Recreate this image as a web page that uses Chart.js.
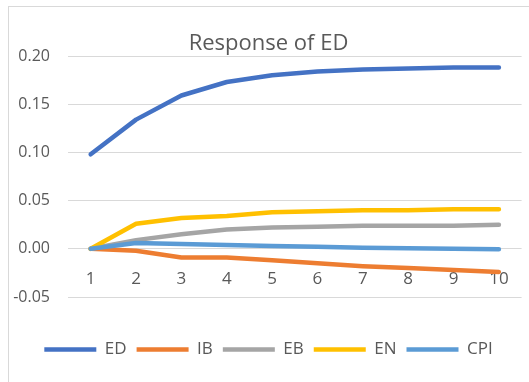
<!DOCTYPE html>
<html>
<head>
<meta charset="utf-8">
<script src="https://cdn.jsdelivr.net/npm/chart.js@4/dist/chart.umd.min.js"></script>
<style>
  html, body { margin: 0; padding: 0; background: #fff; overflow: hidden; }
  #wrap { position: relative; width: 529px; height: 382px; overflow: hidden; }
  #frame { position: absolute; left: 8px; top: 6px; width: 700px; height: 600px;
           border: 1px solid #d9d9d9; pointer-events: none; }
  canvas { position: absolute; left: 0; top: 0; }
</style>
</head>
<body>
<div id="wrap">
  <div id="frame"></div>
  <canvas id="c" width="529" height="382"></canvas>
</div>
<script>
const periods = ['1','2','3','4','5','6','7','8','9','10'];
const ED  = [0.098, 0.134, 0.159, 0.173, 0.180, 0.184, 0.186, 0.187, 0.188, 0.188];
const IB  = [0.000, -0.002, -0.009, -0.009, -0.012, -0.015, -0.018, -0.020, -0.022, -0.024];
const EB  = [0.000, 0.009, 0.015, 0.020, 0.022, 0.023, 0.024, 0.024, 0.024, 0.025];
const EN  = [0.000, 0.026, 0.032, 0.034, 0.038, 0.039, 0.040, 0.040, 0.041, 0.041];
const CPI = [0.000, 0.006, 0.005, 0.004, 0.003, 0.002, 0.001, 0.0005, 0.000, -0.0005];
const seriesNames = ['ED','IB','EB','EN','CPI'];
const seriesColors = ['#4472C4','#ED7D31','#A5A5A5','#FFC000','#5B9BD5'];
const seriesData = [ED, IB, EB, EN, CPI];

const FONT = "'Open Sans', 'Liberation Sans', sans-serif";
const TXT = '#595959';

new Chart(document.getElementById('c'), {
  type: 'line',
  data: {
    labels: periods,
    datasets: seriesNames.map((n, i) => ({
      label: n,
      data: seriesData[i],
      borderColor: seriesColors[i],
      backgroundColor: seriesColors[i],
      borderWidth: 4.5,
      borderCapStyle: 'round',
      borderJoinStyle: 'round',
      pointRadius: 0,
      tension: 0,
      fill: false,
      order: seriesNames.length - 1 - i
    }))
  },
  options: {
    responsive: false,
    animation: false,
    devicePixelRatio: 1,
    layout: { padding: { left: 8, right: 0, top: 0, bottom: 14 } },
    plugins: {
      tooltip: { enabled: false },
      title: {
        display: true,
        text: 'Response of ED',
        color: TXT,
        font: { family: FONT, size: 22, weight: 'normal', lineHeight: 1.0 },
        padding: { top: 33, bottom: 1 }
      },
      legend: {
        position: 'bottom',
        labels: {
          usePointStyle: true,
          pointStyle: 'line',
          pointStyleWidth: 52,
          color: TXT,
          font: { family: FONT, size: 17 },
          padding: 10,
          sort: (a, b) => a.datasetIndex - b.datasetIndex
        }
      }
    },
    scales: {
      x: {
        type: 'category',
        position: { y: 0 },
        offset: true,
        grid: { display: false, drawTicks: false },
        border: { display: false },
        ticks: { color: TXT, font: { family: FONT, size: 17 }, padding: 20, maxRotation: 0, autoSkip: false }
      },
      spacer: {
        type: 'category',
        position: 'bottom',
        display: true,
        grid: { display: false, drawTicks: false },
        border: { display: false },
        ticks: { display: false },
        afterFit: (s) => { s.height = 34; }
      },
      spacerR: {
        type: 'linear',
        position: 'right',
        display: true,
        grid: { display: false, drawTicks: false },
        border: { display: false },
        ticks: { display: false },
        afterFit: (s) => { s.width = 5; }
      },
      y: {
        min: -0.05,
        max: 0.20,
        grid: { color: '#d9d9d9', lineWidth: 1, drawTicks: false },
        border: { display: false },
        ticks: {
          stepSize: 0.05,
          color: TXT,
          font: { family: FONT, size: 16 },
          padding: 18,
          callback: (v) => Number(v).toFixed(2)
        },
        afterFit: (s) => { s.width = 60; }
      }
    }
  }
});
</script>
</body>
</html>
